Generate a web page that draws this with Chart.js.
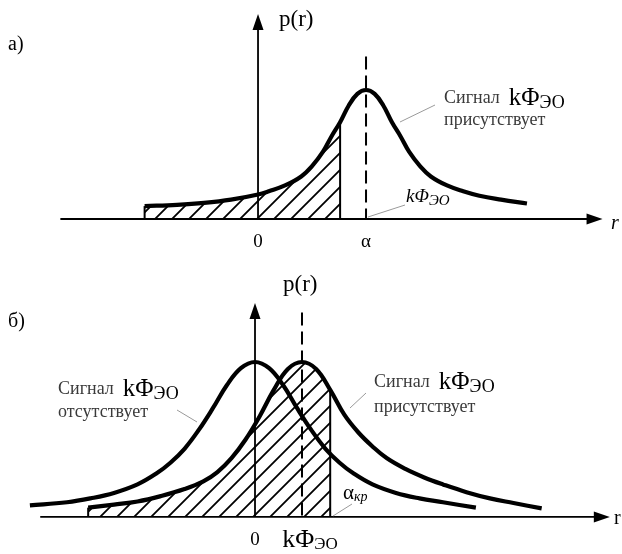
<!DOCTYPE html>
<html>
<head>
<meta charset="utf-8">
<script src="https://cdn.jsdelivr.net/npm/chart.js@4.4.1/dist/chart.umd.min.js"></script>
<style>
  html, body { margin: 0; padding: 0; background: #fff; }
  #wrap { position: relative; width: 622px; height: 554px; }
  canvas { position: absolute; left: 0; }
</style>
</head>
<body>
<div id="wrap">
  <canvas id="chartA" width="622" height="260" style="top:0"></canvas>
  <canvas id="chartB" width="622" height="294" style="top:260px"></canvas>
</div>
<script>
// panel a) : one curve, signal present (peak at r = α = 1)
var rA = [-1.05, -0.75, -0.5, -0.25, 0, 0.1, 0.25, 0.4, 0.5, 0.6, 0.68, 0.76, 0.84, 0.92, 1, 1.08, 1.16, 1.24, 1.32, 1.4, 1.5, 1.6, 1.75, 1.9, 2.05, 2.25, 2.49];
var pA = [0.10, 0.11, 0.125, 0.15, 0.19, 0.215, 0.26, 0.33, 0.41, 0.52, 0.64, 0.75, 0.88, 0.97, 1, 0.97, 0.88, 0.75, 0.64, 0.52, 0.41, 0.33, 0.26, 0.215, 0.18, 0.15, 0.12];
var hatchA = [-1.05, 0.76];
var dashA = [1, 1.26];
var axisXA = [-1.83, 3.19];
var axisYA = [0, 1.59];
var ticksA = [0, 1];
var tickLabelsA = ['0', 'α'];

// panel б) : signal absent (peak at 0) / signal present (peak at kΦ = 1)
var rB0 = [-4.79, -4.0, -3.5, -3.0, -2.5, -2.1, -1.8, -1.5, -1.2, -0.9, -0.6, -0.3, 0, 0.3, 0.6, 0.9, 1.2, 1.5, 1.8, 2.1, 2.5, 3.0, 3.5, 4.0, 4.7];
var pB0 = [0.075, 0.095, 0.12, 0.155, 0.21, 0.28, 0.35, 0.44, 0.56, 0.70, 0.85, 0.96, 1, 0.96, 0.85, 0.70, 0.56, 0.44, 0.35, 0.28, 0.21, 0.155, 0.12, 0.095, 0.06];
var rB1 = [-3.55, -3.0, -2.5, -2.0, -1.5, -1.1, -0.8, -0.5, -0.2, 0.1, 0.4, 0.7, 1.0, 1.3, 1.6, 1.9, 2.2, 2.5, 2.8, 3.2, 3.6, 4.0, 4.5, 5.0, 5.5, 6.1];
var pB1 = [0.06, 0.08, 0.10, 0.135, 0.18, 0.23, 0.29, 0.38, 0.50, 0.65, 0.82, 0.955, 1, 0.955, 0.82, 0.66, 0.545, 0.455, 0.38, 0.31, 0.255, 0.21, 0.16, 0.12, 0.09, 0.055];
var hatchB = [-3.55, 1.60];
var dashB = [1, 1.32];
var axisXB = [-4.57, 7.55];
var axisYB = [0, 1.38];
var ticksB = [0, 1];
var tickLabelsB = ['0', 'kΦЭО'];

var SERIF = '"Liberation Serif", "DejaVu Serif", serif';

function hatchPattern(step) {
  var c = document.createElement('canvas');
  c.width = c.height = step;
  var g = c.getContext('2d');
  g.strokeStyle = '#000';
  g.lineWidth = 1.8;
  g.beginPath();
  g.moveTo(-1, step + 1); g.lineTo(step + 1, -1);
  g.moveTo(-1, 1); g.lineTo(1, -1);
  g.moveTo(step - 1, step + 1); g.lineTo(step + 1, step - 1);
  g.stroke();
  return g.createPattern(c, 'repeat');
}

// draws text runs; used for the "ЭО" subscripts
function runs(ctx, x, y, parts) {
  ctx.textBaseline = 'middle';
  ctx.textAlign = 'left';
  parts.forEach(function (p) {
    ctx.font = (p[2] ? 'italic ' : '') + p[1] + 'px ' + SERIF;
    ctx.fillStyle = p[4] || '#000';
    ctx.fillText(p[0], x, y + (p[3] || 0));
    x += ctx.measureText(p[0]).width;
  });
}

function runsWidth(ctx, parts) {
  var w = 0;
  parts.forEach(function (p) {
    ctx.font = (p[2] ? 'italic ' : '') + p[1] + 'px ' + SERIF;
    w += ctx.measureText(p[0]).width;
  });
  return w;
}

function splitSub(text, size) {
  var i = text.indexOf('Φ');
  if (i < 0) return [[text, size]];
  return [[text.slice(0, i + 1), size + 7], [text.slice(i + 1), size - 2, false, 5]];
}

function pts(r, p) {
  return r.map(function (x, i) { return { x: x, y: p[i] }; });
}

function makePanel(id, o) {
  var curves = o.curves.map(function (c) {
    return {
      data: pts(c[0], c[1]), borderColor: '#000', borderWidth: 4.2, pointRadius: 0,
      tension: 0.4, fill: false, order: 0, borderCapStyle: 'butt'
    };
  });
  var hc = o.curves[o.hatchCurve];
  var hpts = pts(hc[0], hc[1]).filter(function (pt) { return pt.x >= o.hatch[0] && pt.x <= o.hatch[1]; });
  var first = hpts[0], last = hpts[hpts.length - 1];
  var datasets = curves.concat([
    { data: hpts, borderWidth: 0, borderColor: 'rgba(0,0,0,0)', backgroundColor: hatchPattern(17),
      fill: 'origin', pointRadius: 0, tension: 0.4, order: 3 },
    { data: [{ x: first.x, y: 0 }, { x: first.x, y: first.y }], borderColor: '#000', borderWidth: 2, pointRadius: 0, order: 1 },
    { data: [{ x: last.x, y: 0 }, { x: last.x, y: last.y }], borderColor: '#000', borderWidth: 2, pointRadius: 0, order: 1 },
    { data: [{ x: o.dash[0], y: o.dash[1] }, { x: o.dash[0], y: 0 }], borderColor: '#000', borderWidth: 2,
      borderDash: [13, 6], pointRadius: 0, order: 1 }
  ]);

  var decor = {
    id: 'decor',
    beforeDatasetsDraw: function (chart) {
      var ctx = chart.ctx, xs = chart.scales.x, ys = chart.scales.y;
      var x0 = xs.getPixelForValue(0), y0 = ys.getPixelForValue(0);
      var xl = xs.getPixelForValue(o.axisX[0]), xr = xs.getPixelForValue(o.axisX[1]);
      var yt = ys.getPixelForValue(o.axisY[1]);
      ctx.save();
      ctx.strokeStyle = '#000';
      ctx.fillStyle = '#000';
      ctx.lineWidth = 1.8;
      ctx.beginPath();
      ctx.moveTo(xl, y0); ctx.lineTo(xr - 10, y0);
      ctx.moveTo(x0, y0); ctx.lineTo(x0, yt + 10);
      ctx.stroke();
      ctx.beginPath();
      ctx.moveTo(xr, y0); ctx.lineTo(xr - 16, y0 - 5.5); ctx.lineTo(xr - 16, y0 + 5.5); ctx.closePath();
      ctx.moveTo(x0, yt); ctx.lineTo(x0 - 5.5, yt + 16); ctx.lineTo(x0 + 5.5, yt + 16); ctx.closePath();
      ctx.fill();
      ctx.restore();
    },
    afterDatasetsDraw: function (chart) {
      var ctx = chart.ctx, xs = chart.scales.x;
      ctx.save();
      ctx.strokeStyle = '#9a9a9a';
      ctx.lineWidth = 1;
      o.leaders.forEach(function (l) {
        ctx.beginPath(); ctx.moveTo(l[0], l[1]); ctx.lineTo(l[2], l[3]); ctx.stroke();
      });
      o.ticks.forEach(function (t, i) {
        var parts = splitSub(o.tickLabels[i], 19);
        var w = runsWidth(ctx, parts);
        var cx = xs.getPixelForValue(t) + (parts.length > 1 ? 8 : 0);
        runs(ctx, cx - w / 2, o.tickY, parts);
      });
      o.texts.forEach(function (t) { runs(ctx, t[0], t[1], t[2]); });
      ctx.restore();
    }
  };

  return new Chart(document.getElementById(id), {
    type: 'line',
    data: { datasets: datasets },
    options: {
      responsive: false,
      animation: false,
      devicePixelRatio: 1,
      layout: { padding: 0 },
      plugins: { legend: { display: false }, tooltip: { enabled: false } },
      scales: {
        x: { type: 'linear', display: false, min: o.xRange[0], max: o.xRange[1] },
        y: { type: 'linear', display: false, min: o.yRange[0], max: o.yRange[1] }
      }
    },
    plugins: [decor]
  });
}

var GREY = '#3a3a3a';

makePanel('chartA', {
  curves: [[rA, pA]], hatchCurve: 0, hatch: hatchA, dash: dashA,
  axisX: axisXA, axisY: axisYA, ticks: ticksA, tickLabels: tickLabelsA, tickY: 242,
  xRange: [-2.389, 3.370], yRange: [-0.318, 1.698],
  leaders: [[400, 122, 435, 105], [368, 217, 405, 205]],
  texts: [
    [8, 45, [['а)', 20]]],
    [279, 20, [['p(r)', 23]]],
    [611, 224, [['r', 20, true]]],
    [444, 98, [['Сигнал  ', 18, false, 0, GREY], ['kΦ', 25], ['ЭО', 18, false, 5]]],
    [444, 120, [['присутствует', 18, false, 0, GREY]]],
    [406, 197, [['kΦ', 19, true], ['ЭО', 15, true, 4]]]
  ]
});

makePanel('chartB', {
  curves: [[rB0, pB0], [rB1, pB1]], hatchCurve: 1, hatch: hatchB, dash: dashB,
  axisX: axisXB, axisY: axisYB, ticks: ticksB, tickLabels: tickLabelsB, tickY: 280,
  xRange: [-5.426, 7.809], yRange: [-0.239, 1.658],
  leaders: [[177, 150, 197, 162], [350, 148, 366, 133], [333, 256, 352, 244]],
  texts: [
    [8, 62, [['б)', 20]]],
    [283, 25, [['p(r)', 23]]],
    [614, 259, [['r', 20]]],
    [58, 129, [['Сигнал  ', 18, false, 0, GREY], ['kΦ', 25], ['ЭО', 18, false, 5]]],
    [58, 152, [['отсутствует', 18, false, 0, GREY]]],
    [374, 122, [['Сигнал  ', 18, false, 0, GREY], ['kΦ', 25], ['ЭО', 18, false, 5]]],
    [374, 147, [['присутствует', 18, false, 0, GREY]]],
    [343, 233, [['α', 21], ['кр', 14, true, 4]]]
  ]
});
</script>
</body>
</html>
